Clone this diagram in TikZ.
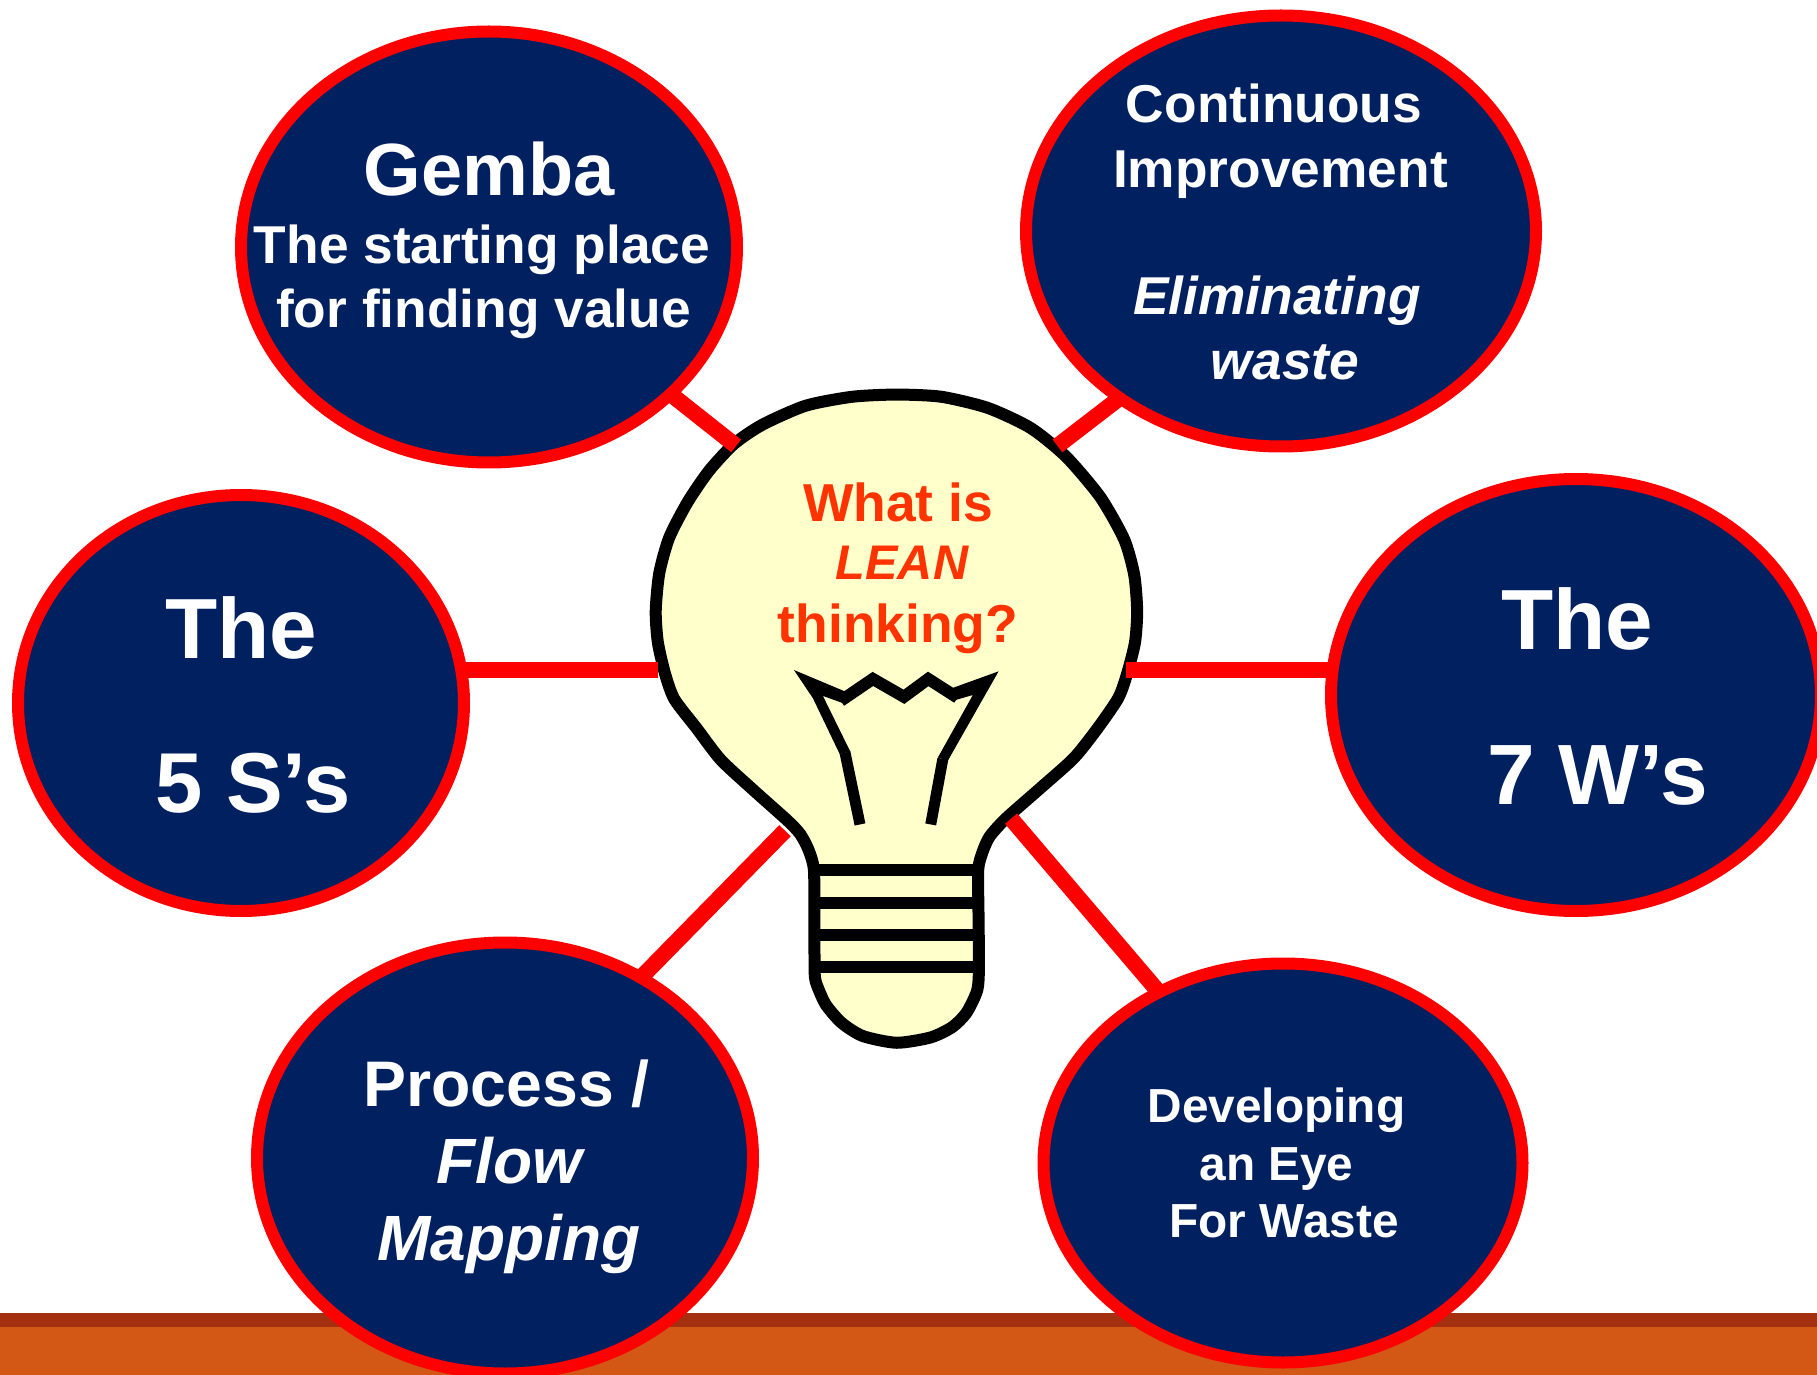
\documentclass[tikz,border=0pt]{standalone}
\usepackage{fontspec}
\setmainfont{Liberation Sans}
\usetikzlibrary{shapes.geometric}
\definecolor{navy}{HTML}{002060}
\definecolor{bulbfill}{HTML}{FFFFCC}
\definecolor{lean}{HTML}{FF3300}
\definecolor{banddark}{HTML}{A53010}
\definecolor{bandmain}{HTML}{D35815}
\tikzset{
  bubble/.style 2 args={ellipse,draw=red,fill=navy,line width=6pt,inner sep=0pt,outer sep=0pt,minimum width=#1,minimum height=#2},
  lbl/.style={anchor=base,inner sep=0pt,outer sep=0pt,text=white,font=\bfseries\fontsize{#1}{#1}\selectfont},
  ilbl/.style={anchor=base,inner sep=0pt,outer sep=0pt,text=white,font=\bfseries\itshape\fontsize{#1}{#1}\selectfont},
  link/.style={draw=red,line width=8pt,line cap=butt},
  bulbline/.style={draw=black,line width=6pt,line join=round},
  leantext/.style={text=lean}
}
\begin{document}
\begin{tikzpicture}[x=0.5pt,y=-0.5pt]
\useasboundingbox (0,0) rectangle (1817,1375);
\clip (0,0) rectangle (1817,1375);
\fill[white] (0,0) rectangle (1817,1375);
% floor band
\fill[bandmain] (0,1327) rectangle (1817,1375);
\fill[banddark] (0,1313) rectangle (1817,1327);
% bulb
\begin{scope}[shift={(620,370)},xscale=0.35714,yscale=0.44643]
\filldraw[bulbline,fill=bulbfill] plot[smooth cycle,tension=0.42] coordinates {
 (775,55) (900,60) (1030,85) (1150,130) (1250,195) (1345,285) (1412,380) (1440,460) (1448,540) (1442,610) (1420,680) (1395,735) (1335,805) (1270,870) (1175,938) (1080,1005) (1035,1045) (1015,1080) (1003,1120) (1004,1230) (1005,1340) (1000,1390) (970,1440) (930,1472) (870,1495) (775,1507) (680,1492) (620,1462) (575,1420) (548,1370) (545,1340) (544,1230) (543,1120) (528,1075) (505,1040) (470,1010) (375,942) (282,873) (215,803) (152,737) (126,680) (106,610) (100,540) (110,455) (138,375) (190,295) (250,225) (320,165) (400,122) (520,80) (650,60)};
\draw[bulbline] (545,1121) -- (1003,1121);
\draw[bulbline] (545,1194) -- (1003,1194);
\draw[bulbline] (545,1266) -- (1003,1266);
\draw[bulbline] (545,1337) -- (1003,1337);
% filament
\fill[black] (487,672) -- (630,720) -- (630,748) -- (568,730) -- (645,855) -- (615,860) -- (540,735) -- cycle;
\fill[black] (1060,675) -- (932,712) -- (932,741) -- (988,728) -- (890,868) -- (918,875) -- cycle;
\draw[bulbline,line join=miter,miter limit=10] (618,741) -- (708,692) -- (795,732) -- (863,692) -- (945,734);
\draw[bulbline,line width=5.5pt] (672,1018) -- (630,857);
\draw[bulbline,line width=5.5pt] (870,1018) -- (904,871);
\coordinate (endg) at (325,170);
\coordinate (endc) at (1225,170);
\coordinate (endf) at (105,673);
\coordinate (ends) at (1417,673);
\coordinate (endp) at (462,1032);
\coordinate (endd) at (1095,1005);
\end{scope}
% bubbles
\node[bubble={248pt}{215.5pt}] (gemba) at (489,247) {};
\node[bubble={255pt}{215.5pt}] (cont) at (1281,231) {};
\node[bubble={223pt}{208pt}] (fives) at (241,703) {};
\node[bubble={245pt}{216pt}] (sevenw) at (1576,695) {};
\node[bubble={248pt}{215.5pt}] (proc) at (505,1158) {};
\node[bubble={239.5pt}{199.5pt}] (dev) at (1283,1163) {};
% connectors
\draw[link] (gemba.-39.6) -- (endg);
\draw[link] (cont.226.2) -- (endc);
\draw[link] (endf) -- (endf -| fives.east);
\draw[link] (ends) -- (ends -| sevenw.west);
\draw[link] (proc.53.7) -- (endp);
\draw[link] (dev.126.8) -- (endd);
% Gemba
\node[lbl=37pt] (t1) at (489,196) {Gemba};
\node[lbl=26.65pt] (t2) at (482,264) {The starting place};
\node[lbl=26.65pt] (t3) at (483.5,328) {for finding value};
% Continuous
\node[lbl=26.65pt] (t4) at (1274,123) {Continuous};
\node[lbl=26.65pt] (t5) at (1280.5,188) {Improvement};
\node[ilbl=26.65pt] (t6) at (1277,315) {Eliminating};
\node[ilbl=26.65pt] (t7) at (1285,380) {waste};
% 5 S's
\node[lbl=42.7pt] (t8) at (241.5,658) {The};
\node[lbl=42.5pt] (t9) at (253,812) {5 S’s};
% 7 W's
\node[lbl=42.7pt] (t10) at (1577,649) {The};
\node[lbl=42.8pt] (t11) at (1597.5,804) {7 W’s};
% Process
\node[lbl=32.2pt] (t12) at (506.5,1106) {Process /};
\node[ilbl=32pt] (t13) at (509,1183) {Flow};
\node[ilbl=32pt] (t14) at (509,1260) {Mapping};
% Developing
\node[lbl=23.9pt] (t15) at (1276.5,1122.5) {Developing};
\node[lbl=23.9pt] (t16) at (1276.5,1180.5) {an Eye};
\node[lbl=23.9pt] (t17) at (1284,1237.5) {For Waste};
% bulb text
\node[lbl=26.7pt,leantext] (t18) at (898,521) {What is};
\node[ilbl=24.3pt,leantext] (t19) at (902,579) {LEAN};
\node[lbl=26.7pt,leantext] (t20) at (898,642) {thinking?};
\end{tikzpicture}
\end{document}
